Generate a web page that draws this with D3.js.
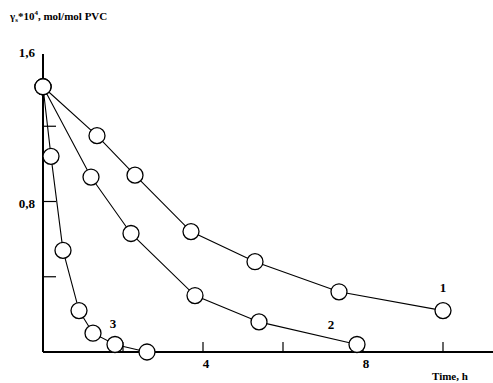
<!DOCTYPE html>
<html>
<head>
<meta charset="utf-8">
<script src="https://cdn.jsdelivr.net/npm/d3@7"></script>
<style>
  body { margin: 0; background: #fff; }
  text { font-family: "Liberation Serif", "Times New Roman", serif; font-weight: bold; fill: #000; }
</style>
</head>
<body>
<div id="chart"></div>
<script>
// curve data (time in h, value *10^4 mol/mol PVC)
var time1 = [0, 1.35, 2.3, 3.7, 5.3, 7.4, 10];
var val1  = [1.41, 1.15, 0.94, 0.64, 0.48, 0.32, 0.22];
var time2 = [0, 1.2, 2.2, 3.8, 5.4, 7.85];
var val2  = [1.41, 0.93, 0.63, 0.30, 0.16, 0.04];
var time3 = [0, 0.2, 0.5, 0.9, 1.25, 1.8, 2.6];
var val3  = [1.41, 1.04, 0.54, 0.22, 0.10, 0.04, 0.0];
var curveNames = ["1", "2", "3"];
var xTicks = [2, 4, 6, 8, 10];
var xTickLabels = {4: "4", 8: "8"};
var yTicks = [0.4, 0.8, 1.2, 1.6];
var yTickLabels = {0.8: "0,8", 1.6: "1,6"};

function makeSeries(t, v) {
  return t.map(function(d, i) { return {x: d, y: v[i]}; });
}

var width = 493, height = 383;
var svg = d3.select("#chart").append("svg")
  .attr("width", width)
  .attr("height", height);

var x = d3.scaleLinear().domain([0, 10]).range([43, 443]);
var y = d3.scaleLinear().domain([0, 1.6]).range([352, 51]);

// axes
svg.append("line")
  .attr("x1", x(0)).attr("x2", width)
  .attr("y1", y(0)).attr("y2", y(0))
  .attr("stroke", "#000").attr("stroke-width", 2);
svg.append("line")
  .attr("x1", x(0)).attr("x2", x(0))
  .attr("y1", y(0)).attr("y2", y(1.6) + 3)
  .attr("stroke", "#000").attr("stroke-width", 2);

// inward ticks
svg.selectAll(".xt").data(xTicks).enter().append("line")
  .attr("x1", function(d) { return x(d); })
  .attr("x2", function(d) { return x(d); })
  .attr("y1", y(0)).attr("y2", y(0) - 10)
  .attr("stroke", "#000").attr("stroke-width", 1.2);
svg.selectAll(".yt").data(yTicks.filter(function(d) { return d < 1.6; })).enter().append("line")
  .attr("x1", x(0)).attr("x2", x(0) + 13)
  .attr("y1", function(d) { return y(d); })
  .attr("y2", function(d) { return y(d); })
  .attr("stroke", "#000").attr("stroke-width", 1.2);

svg.selectAll(".xl").data(xTicks.filter(function(d) { return xTickLabels[d]; })).enter().append("text")
  .attr("x", function(d) { return x(d) + 3; })
  .attr("y", 368)
  .attr("text-anchor", "middle")
  .attr("font-size", 13)
  .text(function(d) { return xTickLabels[d]; });
svg.selectAll(".yl").data(yTicks.filter(function(d) { return yTickLabels[d]; })).enter().append("text")
  .attr("x", 35)
  .attr("y", function(d) { return y(d) + 6; })
  .attr("text-anchor", "end")
  .attr("font-size", 13)
  .text(function(d) { return yTickLabels[d]; });

// axis titles
var yt = svg.append("text").attr("x", 10).attr("y", 20).attr("font-size", 11);
yt.append("tspan").text("γ");
yt.append("tspan").attr("font-size", 7).attr("dy", 2).text("s");
yt.append("tspan").attr("dy", -2).text("*10");
yt.append("tspan").attr("font-size", 7).attr("dy", -5).text("4");
yt.append("tspan").attr("dy", 5).text(", mol/mol PVC");

svg.append("text").attr("x", 432).attr("y", 380).attr("font-size", 11).text("Time, h");

// curves
var allSeries = [makeSeries(time1, val1), makeSeries(time2, val2), makeSeries(time3, val3)];
var line = d3.line().x(function(d) { return x(d.x); }).y(function(d) { return y(d.y); });

allSeries.forEach(function(s) {
  svg.append("path")
    .datum(s)
    .attr("d", line)
    .attr("fill", "none")
    .attr("stroke", "#000")
    .attr("stroke-width", 1.1);
});
allSeries.forEach(function(s) {
  svg.selectAll(null).data(s).enter().append("circle")
    .attr("cx", function(d) { return x(d.x); })
    .attr("cy", function(d) { return y(d.y); })
    .attr("r", 8)
    .attr("fill", "#fff")
    .attr("stroke", "#000")
    .attr("stroke-width", 1.3);
});

// curve numbers
var labelPos = [{x: 10, y: 0.32}, {x: 7.2, y: 0.12}, {x: 1.75, y: 0.13}];
svg.selectAll(".cn").data(curveNames).enter().append("text")
  .attr("x", function(d, i) { return x(labelPos[i].x); })
  .attr("y", function(d, i) { return y(labelPos[i].y); })
  .attr("text-anchor", "middle")
  .attr("font-size", 13)
  .text(function(d) { return d; });
</script>
</body>
</html>
